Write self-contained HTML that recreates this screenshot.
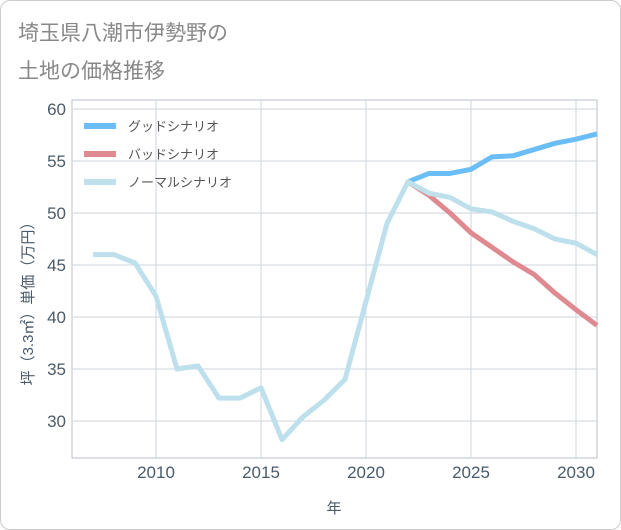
<!DOCTYPE html>
<html><head><meta charset="utf-8">
<style>
body{margin:0;background:#fff;font-family:"Liberation Sans","Noto Sans CJK JP",sans-serif;}
#wrap{position:relative;width:619px;height:528px;border:1px solid #ccc;border-radius:10px;overflow:hidden;background:#fff;}
</style></head><body>
<div id="wrap">
<svg id="chart" width="621" height="530" style="position:absolute;left:-1px;top:-1px">
<text x="18" y="40" font-size="21" fill="#888">埼玉県八潮市伊勢野の</text>
<text x="18" y="78" font-size="21" fill="#888">土地の価格推移</text>
<text transform="translate(33,300) rotate(-90)" font-size="15" fill="#4a5a6a" text-anchor="middle">坪（3.3㎡）単価（万円）</text>
<text x="334" y="513" font-size="15" fill="#4a5a6a" text-anchor="middle">年</text>
<g id="grid"></g><g id="lines"></g><g id="legend"></g>
</svg>
</div>
<script>
const years=[2007,2008,2009,2010,2011,2012,2013,2014,2015,2016,2017,2018,2019,2020,2021,2022,2023,2024,2025,2026,2027,2028,2029,2030,2031];
const normalVals=[46,46,45.2,42,35,35.3,32.2,32.2,33.2,28.2,30.4,32,34,41.5,49,53,51.9,51.5,50.4,50.1,49.2,48.5,47.5,47.1,46];
const forecastYears=[2022,2023,2024,2025,2026,2027,2028,2029,2030,2031];
const goodVals=[53,53.8,53.8,54.2,55.4,55.5,56.1,56.7,57.1,57.6];
const badVals=[53,51.7,50,48.1,46.7,45.3,44.1,42.3,40.7,39.2];
const xTicks=[2010,2015,2020,2025,2030];
const yTicks=[30,35,40,45,50,55,60];
const legendLabels=["グッドシナリオ","バッドシナリオ","ノーマルシナリオ"];
const X0=72,X1=597,Y0=100,Y1=458;
const xs=v=>X0+(v-2006)*(X1-X0)/25;
const ys=v=>421+(30-v)*10.4;
const NS="http://www.w3.org/2000/svg";
function mk(tag,attrs,parent){const e=document.createElementNS(NS,tag);for(const k in attrs)e.setAttribute(k,attrs[k]);parent.appendChild(e);return e;}
const grid=document.getElementById('grid');
mk('rect',{x:X0,y:Y0,width:X1-X0,height:Y1-Y0,fill:'none',stroke:'#b8c0c8'},grid);
yTicks.forEach(t=>{
 const l=mk('line',{x1:X0,x2:X1,y1:ys(t),y2:ys(t),stroke:'#cdd6de'},grid);
 
 
 const tx=mk('text',{x:66,y:ys(t)+6,'font-size':17,fill:'#4a5a6a','text-anchor':'end'},grid);
 tx.textContent=t;
 
 
});
xTicks.forEach(t=>{
 const l=mk('line',{x1:xs(t),x2:xs(t),y1:Y0,y2:Y1,stroke:'#cdd6de'},grid);
 
 
 const tx=mk('text',{x:xs(t),y:478,'font-size':17,fill:'#4a5a6a','text-anchor':'middle'},grid);
 tx.textContent=t;
 
 
});
const lines=document.getElementById('lines');
function series(xv,yv,color,name){
 const p=mk('polyline',{points:xv.map((x,i)=>xs(x)+','+ys(yv[i])).join(' '),fill:'none',stroke:color,'stroke-width':5,'stroke-linejoin':'round'},lines);
 
 
}
series(forecastYears,goodVals,'#6bbdf5','good-scenario-line');
series(forecastYears,badVals,'#de8a90','bad-scenario-line');
series(years,normalVals,'#bde0ec','normal-scenario-line');
const lg=document.getElementById('legend');
const cols=['#6bbdf5','#de8a90','#bde0ec'];
legendLabels.forEach((s,i)=>{
 const y=126+i*28;
 const l=mk('line',{x1:84,x2:116,y1:y,y2:y,stroke:cols[i],'stroke-width':6},lg);
 
 
 const t=mk('text',{x:128,y:y+5,'font-size':13,fill:'#555'},lg);
 t.textContent=s;
 
 
});
</script>
</body></html>
